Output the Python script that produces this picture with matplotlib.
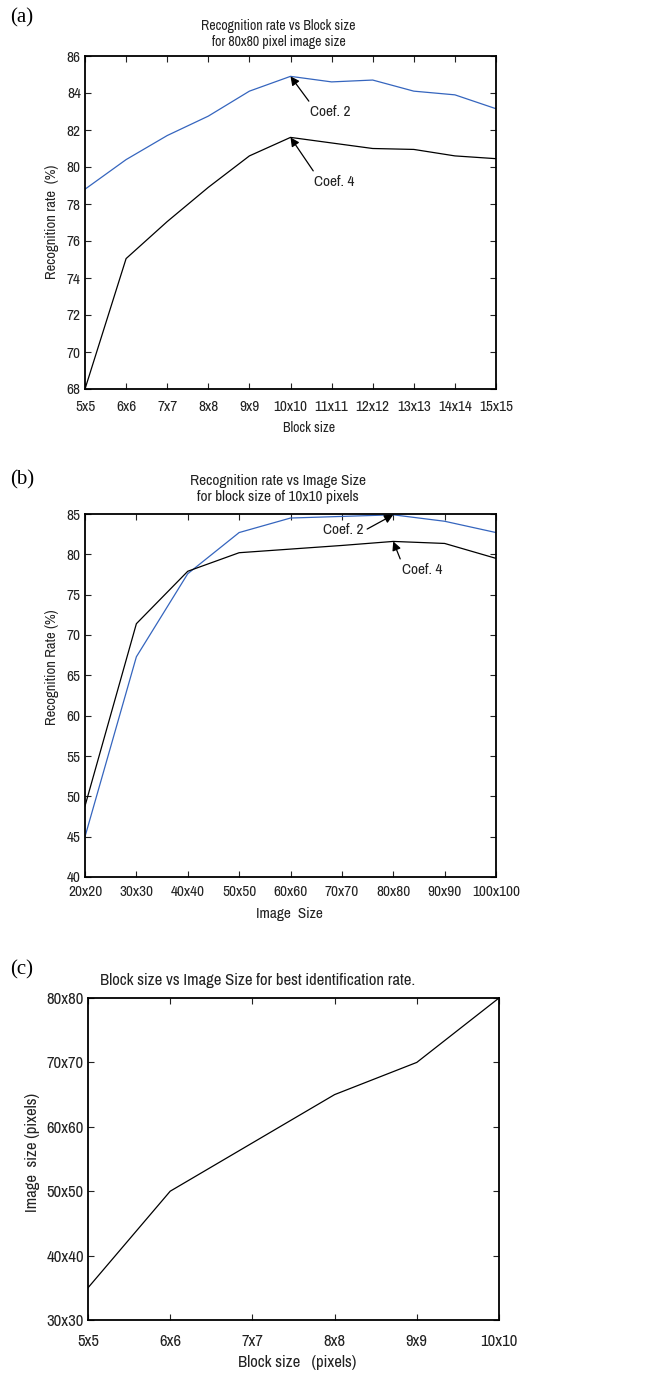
import numpy as np
import matplotlib
matplotlib.use('Agg')
import matplotlib.pyplot as plt

matplotlib.rcParams['font.family'] = ['Archivo Narrow', 'Liberation Sans', 'DejaVu Sans']

##########################################
## Data
##########################################
block_labels_a = ['5x5', '6x6', '7x7', '8x8', '9x9', '10x10', '11x11',
                  '12x12', '13x13', '14x14', '15x15']
coef2_a = [78.8, 80.4, 81.7, 82.75, 84.1, 84.9, 84.6, 84.7, 84.1, 83.9, 83.15]
coef4_a = [68.0, 75.05, 77.05, 78.9, 80.6, 81.6, 81.3, 81.0, 80.95, 80.6, 80.45]

image_labels_b = ['20x20', '30x30', '40x40', '50x50', '60x60', '70x70',
                  '80x80', '90x90', '100x100']
coef2_b = [45.0, 67.3, 77.6, 82.7, 84.5, 84.7, 84.9, 84.1, 82.7]
coef4_b = [48.8, 71.4, 77.9, 80.2, 80.65, 81.1, 81.6, 81.35, 79.5]

block_labels_c = ['5x5', '6x6', '7x7', '8x8', '9x9', '10x10']
best_image_c = [35, 50, 57.5, 65, 70, 80]
image_ticks_c = [30, 40, 50, 60, 70, 80]
image_ticklabels_c = ['30x30', '40x40', '50x50', '60x60', '70x70', '80x80']

##########################################
## Layout helpers (pixel positions)
##########################################
W, H = 645, 1374
blue = '#3565be'
txt = '#222222'
lw_line = 0.9

fig = plt.figure(figsize=(W / 100, H / 100), dpi=100)
fig.patch.set_facecolor('white')


def axes_px(left, top, right, bottom):
    return fig.add_axes([left / W, 1 - bottom / H, (right - left) / W, (bottom - top) / H])


def ftext(x, y, s, **kw):
    fig.text(x / W, 1 - y / H, s, **kw)


def style(ax, fs, xpad, ypad):
    for sp in ax.spines.values():
        sp.set_linewidth(1.3)
    ax.tick_params(direction='in', length=4, width=0.8, top=True, right=True,
                   labelsize=fs, colors=txt)
    ax.tick_params(axis='x', pad=xpad)
    ax.tick_params(axis='y', pad=ypad)


arrow = dict(arrowstyle='-|>', color='black', lw=0.9, mutation_scale=13,
             shrinkA=1, shrinkB=0)

##########################################
## (a)
##########################################
ax = axes_px(85, 56, 496, 389)
xa = np.arange(len(block_labels_a))
ax.plot(xa, coef2_a, c=blue, lw=lw_line)
ax.plot(xa, coef4_a, c='black', lw=lw_line)
ax.set_xlim(0, len(xa) - 1)
ax.set_ylim(68, 86)
ax.set_yticks(np.arange(68, 87, 2))
ax.set_xticks(xa)
ax.set_xticklabels(block_labels_a)
style(ax, 11, 8, 3)
ax.annotate('Coef. 2', xy=(5, coef2_a[5]), xytext=(5.96, 82.97), fontsize=11,
            ha='center', va='center', color=txt,
            arrowprops=dict(arrow, relpos=(0.05, 1.0)))
ax.annotate('Coef. 4', xy=(5, coef4_a[5]), xytext=(6.06, 79.2), fontsize=11,
            ha='center', va='center', color=txt,
            arrowprops=dict(arrow, relpos=(0.05, 1.0)))
ftext(278, 26, 'Recognition rate vs Block size', ha='center', va='center', fontsize=10, color=txt)
ftext(279, 42, 'for 80x80 pixel image size', ha='center', va='center', fontsize=10, color=txt)
ftext(309, 428, 'Block size', ha='center', va='center', fontsize=10, color=txt)
ftext(52, 222, 'Recognition rate  (%)', ha='center', va='center', rotation=90, fontsize=10.5, color=txt)
ftext(10, 18, '(a)', ha='left', va='center', fontsize=15, family='Liberation Serif')

##########################################
## (b)
##########################################
ax = axes_px(85, 514, 496, 877)
xb = np.arange(len(image_labels_b))
ax.plot(xb, coef2_b, c=blue, lw=lw_line)
ax.plot(xb, coef4_b, c='black', lw=lw_line)
ax.set_xlim(0, len(xb) - 1)
ax.set_ylim(40, 85)
ax.set_yticks(np.arange(40, 86, 5))
ax.set_xticks(xb)
ax.set_xticklabels(image_labels_b)
style(ax, 11, 6, 3)
ax.annotate('Coef. 2', xy=(6, coef2_b[6]), xytext=(5.02, 83.0), fontsize=11,
            ha='center', va='center', color=txt,
            arrowprops=dict(arrow, relpos=(1.05, 0.5)))
ax.annotate('Coef. 4', xy=(6, coef4_b[6]), xytext=(6.56, 78.06), fontsize=11,
            ha='center', va='center', color=txt,
            arrowprops=dict(arrow, relpos=(0.0, 1.0)))
ftext(278, 481, 'Recognition rate vs Image Size', ha='center', va='center', fontsize=11, color=txt)
ftext(278, 497, 'for block size of 10x10 pixels', ha='center', va='center', fontsize=11, color=txt)
ftext(289, 914, 'Image  Size', ha='center', va='center', fontsize=11, color=txt)
ftext(52, 667, 'Recognition Rate (%)', ha='center', va='center', rotation=90, fontsize=10.5, color=txt)
ftext(10, 480, '(b)', ha='left', va='center', fontsize=15, family='Liberation Serif')

##########################################
## (c)
##########################################
ax = axes_px(88, 998, 499, 1320)
xc = np.arange(len(block_labels_c))
ax.plot(xc, best_image_c, c='black', lw=lw_line)
ax.set_xlim(0, len(xc) - 1)
ax.set_ylim(30, 80)
ax.set_yticks(image_ticks_c)
ax.set_yticklabels(image_ticklabels_c)
ax.set_xticks(xc)
ax.set_xticklabels(block_labels_c)
style(ax, 12, 10, 3)
ftext(258, 980, 'Block size vs Image Size for best identification rate.', ha='center', va='center',
      fontsize=12, color=txt)
ftext(297, 1363, 'Block size   (pixels)', ha='center', va='center', fontsize=12, color=txt)
ftext(33, 1152, 'Image  size (pixels)', ha='center', va='center', rotation=90, fontsize=12, color=txt)
ftext(10, 970, '(c)', ha='left', va='center', fontsize=15, family='Liberation Serif')

plt.savefig('out.png', dpi=100)
